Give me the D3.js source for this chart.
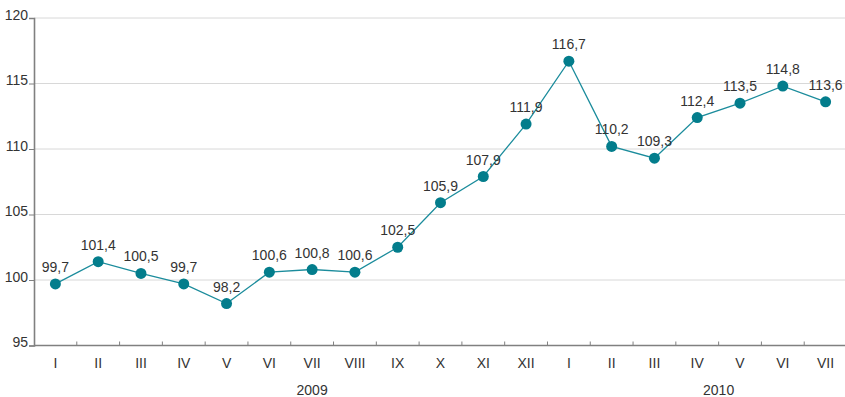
<!DOCTYPE html>
<html>
<head>
<meta charset="utf-8">
<script src="https://cdn.jsdelivr.net/npm/d3@7"></script>
<style>
  body { margin: 0; background: #fff; }
  text { font-family: "Liberation Sans", Arial, sans-serif; fill: #333; }
</style>
</head>
<body>
<svg id="chart"></svg>
<script>
// data
var months = ["I", "II", "III", "IV", "V", "VI", "VII", "VIII", "IX", "X", "XI", "XII",
  "I", "II", "III", "IV", "V", "VI", "VII"];
var values = [99.7, 101.4, 100.5, 99.7, 98.2, 100.6, 100.8, 100.6, 102.5, 105.9, 107.9, 111.9,
  116.7, 110.2, 109.3, 112.4, 113.5, 114.8, 113.6];
var yTicks = [95, 100, 105, 110, 115, 120];
var years = ["2009", "2010"];
var yearPos = [6.5, 16.0]; // band index where the year label sits

var width = 845, height = 397;

var svg = d3.select("#chart")
  .attr("width", width)
  .attr("height", height);

var data = values.map(function(v, i) { return { i: i, m: months[i], v: v }; });

// scales
var x = d3.scaleBand().domain(d3.range(months.length)).range([34, 847]);
var y = d3.scaleLinear().domain([95, 120]).range([345.5, 18]);

// gridlines
svg.append("g")
  .selectAll("line")
  .data(yTicks.slice(1))
  .enter().append("line")
  .attr("x1", 34).attr("x2", width)
  .attr("y1", function(d) { return y(d); })
  .attr("y2", function(d) { return y(d); })
  .attr("stroke", "#d8d8d8")
  .attr("stroke-width", 1);

// y axis
var yAxis = svg.append("g")
  .attr("transform", "translate(34,0)")
  .call(d3.axisLeft(y).tickValues(yTicks).tickSize(5).tickPadding(1));
yAxis.select(".domain").attr("stroke", "#808080").attr("stroke-width", 1.6);
yAxis.selectAll(".tick line").attr("stroke", "#808080");
yAxis.selectAll(".tick text")
  .style("font-size", "14px").style("font-family", "Liberation Sans, Arial, sans-serif")
  .attr("fill", "#333").attr("dy", "0.1em");

// x axis (ticks at band boundaries, pointing up)
var xAxis = svg.append("g")
  .attr("transform", "translate(0," + y(95) + ")");
xAxis.append("line")
  .attr("x1", 34).attr("x2", width)
  .attr("stroke", "#808080").attr("stroke-width", 1.6);
xAxis.selectAll(".tk")
  .data(d3.range(1, months.length))
  .enter().append("line")
  .attr("x1", function(d) { return x(d); })
  .attr("x2", function(d) { return x(d); })
  .attr("y1", 0).attr("y2", -4)
  .attr("stroke", "#808080");
xAxis.selectAll(".lbl")
  .data(data)
  .enter().append("text")
  .attr("x", function(d) { return x(d.i) + x.bandwidth() / 2; })
  .attr("y", 22)
  .attr("text-anchor", "middle")
  .style("font-size", "14px")
  .text(function(d) { return d.m; });

// year labels
svg.selectAll(".year")
  .data(years)
  .enter().append("text")
  .attr("x", function(d, i) { return x(0) + yearPos[i] * x.step(); })
  .attr("y", 395)
  .attr("text-anchor", "middle")
  .style("font-size", "14px")
  .text(function(d) { return d; });

// line
var line = d3.line()
  .x(function(d) { return x(d.i) + x.bandwidth() / 2; })
  .y(function(d) { return y(d.v); });

svg.append("path")
  .datum(data)
  .attr("d", line)
  .attr("fill", "none")
  .attr("stroke", "#1b8c9c")
  .attr("stroke-width", 1.3);

// points
svg.selectAll(".dot")
  .data(data)
  .enter().append("circle")
  .attr("cx", function(d) { return x(d.i) + x.bandwidth() / 2; })
  .attr("cy", function(d) { return y(d.v); })
  .attr("r", 5.5)
  .attr("fill", "#037d8c");

// value labels
svg.selectAll(".val")
  .data(data)
  .enter().append("text")
  .attr("x", function(d) { return x(d.i) + x.bandwidth() / 2; })
  .attr("y", function(d) { return y(d.v) - 12; })
  .attr("text-anchor", "middle")
  .style("font-size", "14px")
  .text(function(d) { return d3.format(".1f")(d.v).replace(".", ","); });
</script>
</body>
</html>
